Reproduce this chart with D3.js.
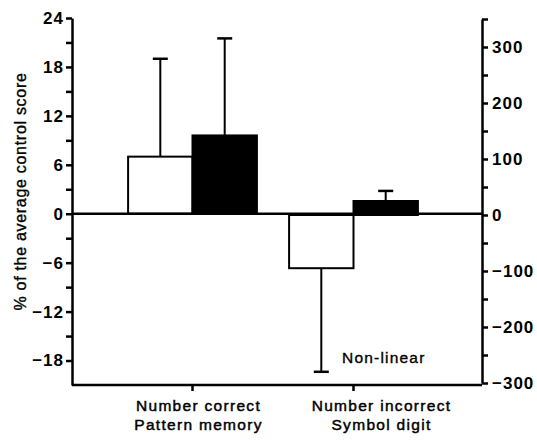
<!DOCTYPE html>
<html>
<head>
<meta charset="utf-8">
<script src="https://cdn.jsdelivr.net/npm/d3@7"></script>
<style>
  html, body { margin: 0; padding: 0; background: #fff; }
  svg { display: block; }
  text { font-family: "Liberation Sans", Arial, Helvetica, sans-serif; fill: #000; }
</style>
</head>
<body>
<svg id="chart" width="537" height="441"></svg>
<script>
// ---- data ----
const categoryLine1 = ["Number correct", "Number incorrect"];
const categoryLine2 = ["Pattern memory", "Symbol digit"];
const categoryScale = ["left", "right"];        // which y axis each category is read on
const seriesNames = ["open", "filled"];
const openValues = [7.0, -95];
const openErrors = [19.0, -280];
const filledValues = [9.6, 25];
const filledErrors = [21.5, 43];
const leftTicks = [24, 18, 12, 6, 0, -6, -12, -18];
const leftMinorTicks = [21, 15, 9, 3, -3, -9, -15];
const rightTicks = [300, 200, 100, 0, -100, -200, -300];
const rightMinorTicks = [350, 250, 150, 50, -50, -150, -250];
const yTitle = "% of the average control score";
const note = "Non-linear";

// ---- layout ----
const svg = d3.select("#chart");
const xLeft = 72, xRight = 482, yTop = 18, yBottom = 385;

const yL = d3.scaleLinear().domain([-21, 24]).range([yBottom, yTop]);
const yR = d3.scaleLinear().domain([-300, 350]).range([383, 19]);
const scaleFor = s => s === "left" ? yL : yR;

const x0 = d3.scaleBand().domain(categoryLine1).range([112, 434]).paddingInner(0).paddingOuter(0);
const x1 = d3.scaleBand().domain(seriesNames).range([0, x0.bandwidth()]).paddingOuter(0.25).paddingInner(0);

const rows = categoryLine1.map((c, i) => ({
  cat: c, scale: scaleFor(categoryScale[i]),
  bars: [
    { s: "open", v: openValues[i], e: openErrors[i] },
    { s: "filled", v: filledValues[i], e: filledErrors[i] }
  ]
}));

// bars
const g = svg.append("g");
rows.forEach(r => {
  r.bars.forEach(b => {
    const bx = x0(r.cat) + x1(b.s);
    const y0 = r.scale(0), yv = r.scale(b.v);
    g.append("rect")
      .attr("x", bx).attr("width", x1.bandwidth())
      .attr("y", Math.min(y0, yv)).attr("height", Math.abs(yv - y0))
      .attr("fill", b.s === "filled" ? "#000" : "#fff")
      .attr("stroke", "#000").attr("stroke-width", 2);
    const cx = bx + x1.bandwidth() / 2;
    const ye = r.scale(b.e);
    g.append("line").attr("x1", cx).attr("x2", cx).attr("y1", yv).attr("y2", ye)
      .attr("stroke", "#000").attr("stroke-width", 2);
    g.append("line").attr("x1", cx - 7.5).attr("x2", cx + 7.5).attr("y1", ye).attr("y2", ye)
      .attr("stroke", "#000").attr("stroke-width", 2.5);
  });
});

// zero line
svg.append("line").attr("x1", xLeft).attr("x2", xRight)
  .attr("y1", yL(0)).attr("y2", yL(0)).attr("stroke", "#000").attr("stroke-width", 2.5);

// left axis
const leftAxis = svg.append("g").attr("transform", `translate(${xLeft},0)`)
  .call(d3.axisLeft(yL).tickValues(leftTicks).tickSize(6).tickSizeOuter(0).tickFormat(d3.format("d")));
svg.append("g").attr("transform", `translate(${xLeft},0)`)
  .call(d3.axisLeft(yL).tickValues(leftMinorTicks).tickSize(6).tickSizeOuter(0).tickFormat(""))
  .call(a => a.select(".domain").remove());

// right axis
const rightAxis = svg.append("g").attr("transform", `translate(${xRight},0)`)
  .call(d3.axisRight(yR).tickValues(rightTicks).tickSize(6).tickSizeOuter(0).tickFormat(d3.format("d")));
svg.append("g").attr("transform", `translate(${xRight},0)`)
  .call(d3.axisRight(yR).tickValues(rightMinorTicks).tickSize(6).tickSizeOuter(0).tickFormat(""))
  .call(a => a.select(".domain").remove());

// bottom axis
const bottomAxis = svg.append("g").attr("transform", `translate(0,${yBottom})`)
  .call(d3.axisBottom(x0).tickSize(6).tickSizeOuter(0).tickFormat(""));
bottomAxis.select(".domain").attr("d", `M${xLeft},0H${xRight}`);

svg.selectAll(".domain").attr("stroke", "#000").attr("stroke-width", 2.5);
svg.selectAll(".tick line").attr("stroke", "#000").attr("stroke-width", 2.5);
svg.selectAll(".tick text")
  .style("font-family", "'Liberation Sans', Arial, sans-serif")
  .style("font-size", "17px").style("font-weight", "bold").style("letter-spacing", "1px")
  .attr("fill", "#000");
leftAxis.selectAll(".tick text").attr("x", -8);
rightAxis.selectAll(".tick text").attr("x", 10);

// category labels
const labelShift = [6, 28];
categoryLine1.forEach((c, i) => {
  const cx = x0(c) + x0.bandwidth() / 2 + labelShift[i];
  [c, categoryLine2[i]].forEach((t, k) => {
    svg.append("text").attr("x", cx).attr("y", 411 + k * 19).attr("text-anchor", "middle")
      .style("font-size", "15.5px").style("letter-spacing", "1.3px")
      .attr("stroke", "#000").attr("stroke-width", 0.45).text(t);
  });
});

// y title
svg.append("text")
  .attr("transform", `translate(26,${(yTop + yBottom) / 2 - 10}) rotate(-90)`)
  .attr("text-anchor", "middle")
  .style("font-size", "16px").style("letter-spacing", "0.7px")
  .attr("stroke", "#000").attr("stroke-width", 0.35)
  .text(yTitle);

// note
svg.append("text").attr("x", 342).attr("y", 363)
  .style("font-size", "15.5px").style("letter-spacing", "1.2px")
  .attr("stroke", "#000").attr("stroke-width", 0.35).text(note);
</script>
</body>
</html>
